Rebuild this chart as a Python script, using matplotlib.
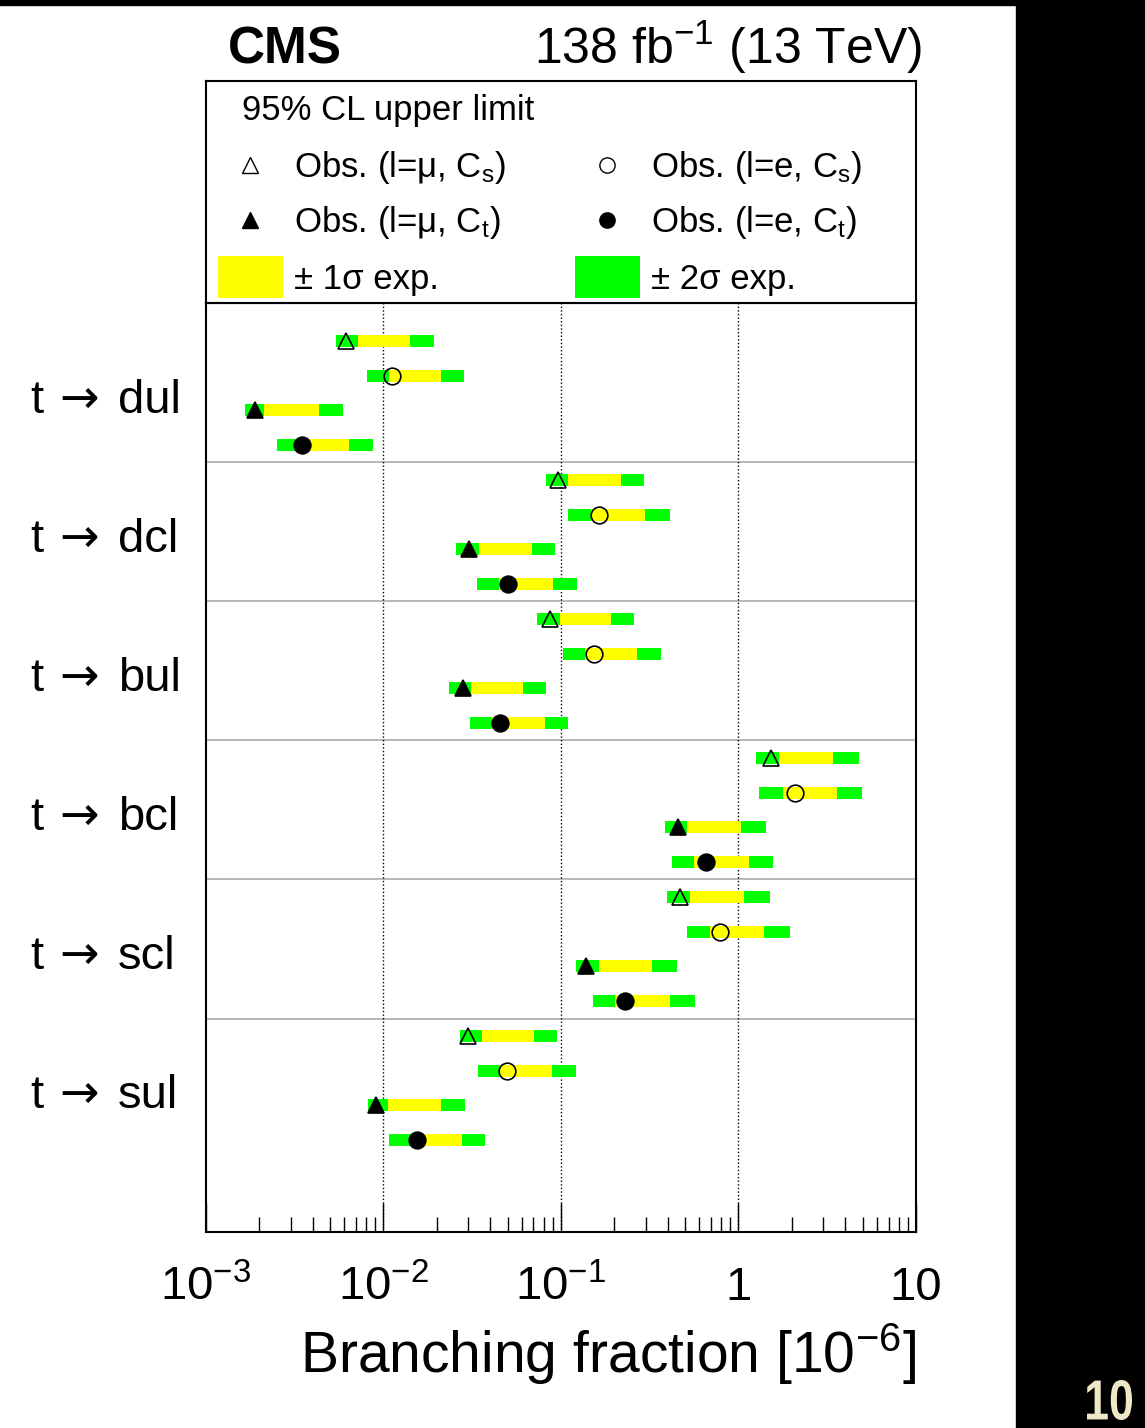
import numpy as np
import matplotlib
matplotlib.use('Agg')
import matplotlib.pyplot as plt
from matplotlib.patches import Rectangle, PathPatch
from matplotlib.textpath import TextPath
from matplotlib.font_manager import FontProperties
from matplotlib.transforms import Affine2D

plt.rcParams['font.family'] = ['Liberation Sans', 'DejaVu Sans']
plt.rcParams['mathtext.fontset'] = 'custom'
plt.rcParams['mathtext.rm'] = 'Liberation Sans'
plt.rcParams['mathtext.it'] = 'Liberation Sans:italic'
plt.rcParams['mathtext.bf'] = 'Liberation Sans:bold'

# Decay channels, top to bottom
channels = ['dul', 'dcl', 'bul', 'bcl', 'scl', 'sul']

# Observed 95% CL limits [1e-6], one value per channel
obs_mu_cs = [0.00615, 0.0958, 0.0870, 1.52, 0.468, 0.0300]
obs_e_cs = [0.0112, 0.164, 0.153, 2.09, 0.787, 0.0494]
obs_mu_ct = [0.00189, 0.0304, 0.0282, 0.456, 0.138, 0.0091]
obs_e_ct = [0.00349, 0.0501, 0.0455, 0.654, 0.229, 0.01544]

# Expected bands: (-2 sigma, -1 sigma, +1 sigma, +2 sigma)
band_mu_cs = [(0.00538, 0.00718, 0.01416, 0.0192), (0.0823, 0.110, 0.217, 0.294),
              (0.0732, 0.0988, 0.191, 0.259), (1.26, 1.70, 3.42, 4.76),
              (0.396, 0.533, 1.08, 1.51), (0.0269, 0.0359, 0.0705, 0.0950)]
band_e_cs = [(0.00807, 0.0108, 0.0211, 0.0283), (0.110, 0.148, 0.297, 0.410),
             (0.102, 0.1365, 0.269, 0.366), (1.31, 1.77, 3.59, 4.96),
             (0.511, 0.691, 1.40, 1.94), (0.0341, 0.0453, 0.0893, 0.121)]
band_mu_ct = [(0.001652, 0.00213, 0.00431, 0.00591), (0.0257, 0.0345, 0.0684, 0.0925),
              (0.0234, 0.0312, 0.0613, 0.0823), (0.386, 0.515, 1.03, 1.42),
              (0.1215, 0.163, 0.326, 0.450), (0.00821, 0.0106, 0.0211, 0.0287)]
band_e_ct = [(0.00252, 0.00336, 0.00637, 0.00869), (0.0336, 0.0449, 0.0898, 0.123),
             (0.0306, 0.0407, 0.0809, 0.109), (0.421, 0.564, 1.15, 1.57),
             (0.151, 0.2015, 0.410, 0.567), (0.0107, 0.01428, 0.0278, 0.0375)]

xticks = [1e-3, 1e-2, 1e-1, 1, 10]
xtick_labels = [r'$10^{-3}$', r'$10^{-2}$', r'$10^{-1}$', '1', '10']

GREEN = '#00ff00'
YELLOW = '#ffff00'

fig = plt.figure(figsize=(11.45, 14.28), dpi=100)
ax = fig.add_axes([0.1799, 0.1373, 0.6201, 0.6506])

series = [
    (obs_mu_cs, band_mu_cs, '^', 'none'),
    (obs_e_cs, band_e_cs, 'o', 'none'),
    (obs_mu_ct, band_mu_ct, '^', 'black'),
    (obs_e_ct, band_e_ct, 'o', 'black'),
]

bar_h = 0.345
for s, (obs, band, mk, fc) in enumerate(series):
    y = np.arange(len(channels)) * 4 + s
    band = np.array(band)
    ax.barh(y, band[:, 3] - band[:, 0], left=band[:, 0], height=bar_h,
            color=GREEN, linewidth=0, zorder=2)
    ax.barh(y, band[:, 2] - band[:, 1], left=band[:, 1], height=bar_h,
            color=YELLOW, linewidth=0, zorder=3)
    ax.plot(obs, y, linestyle='none', marker=mk, markersize=12,
            markerfacecolor=fc, markeredgecolor='black', markeredgewidth=1.2, zorder=5)

ax.set_xscale('log')
ax.set_xlim(1e-3, 10)
ax.set_ylim(25.64, -1.09)

# group separators and dotted decade lines
for g in range(1, len(channels)):
    ax.axhline(4 * g - 0.5, color='#ababab', lw=1.2, zorder=1)
for xv in [1e-2, 1e-1, 1]:
    ax.axvline(xv, color='black', lw=1.0, ls=(0, (1, 1.6)), zorder=1)

# channel labels: "t", long arrow, final state
ytr = ax.get_yaxis_transform()
for g, ch in enumerate(channels):
    yb = 4 * g + 2.08
    ax.text((30 - 206) / 710, yb, 't', transform=ytr, fontsize=34, ha='left', va='baseline')
    ax.text((59 - 206) / 710, yb, '\u2192', transform=ytr, fontsize=34, ha='left',
            va='baseline', family='DejaVu Sans')
    ax.text((118 - 206) / 710, yb, ch, transform=ytr, fontsize=34, ha='left', va='baseline')

ax.set_yticks([])
ax.set_xticks(xticks)
ax.set_xticklabels([])
ax.tick_params(axis='x', which='major', direction='in', length=21, width=1.0, top=False)
ax.tick_params(axis='x', which='minor', direction='in', length=11, width=1.0, top=False)
for sp in ax.spines.values():
    sp.set_linewidth(1.5)

for xv, lab in zip(xticks, xtick_labels):
    ax.text(xv, -0.0732, lab, transform=ax.get_xaxis_transform(),
            fontsize=34, ha='center', va='baseline')

# legend box
lax = fig.add_axes([0.1799, 0.7878, 0.6201, 0.1555])
lax.set_xlim(0, 1)
lax.set_ylim(0, 1)
lax.set_xticks([])
lax.set_yticks([])
for sp in lax.spines.values():
    sp.set_linewidth(1.5)

lax.text(0.0507, 0.822, '95% CL upper limit', fontsize=25, va='baseline')
lax.plot(0.062, 0.6216, '^', ms=12, mfc='none', mec='black', mew=1.0)
lax.plot(0.5648, 0.6216, 'o', ms=11, mfc='none', mec='black', mew=1.0)
lax.plot(0.062, 0.3739, '^', ms=11, mfc='black', mec='black')
lax.plot(0.5648, 0.3739, 'o', ms=11, mfc='black', mec='black')
lax.text(0.124, 0.5653, r'Obs. (l=μ, C$_{\mathregular{s}}$)', fontsize=25, va='baseline')
lax.text(0.627, 0.5653, r'Obs. (l=e, C$_{\mathregular{s}}$)', fontsize=25, va='baseline')
lax.text(0.124, 0.3176, r'Obs. (l=μ, C$_{\mathregular{t}}$)', fontsize=25, va='baseline')
lax.text(0.627, 0.3176, r'Obs. (l=e, C$_{\mathregular{t}}$)', fontsize=25, va='baseline')
lax.add_patch(Rectangle((0.0169, 0.0225), 0.0916, 0.1892, color=YELLOW, lw=0))
lax.add_patch(Rectangle((0.5197, 0.0225), 0.0916, 0.1892, color=GREEN, lw=0))
lax.text(0.124, 0.0631, '± 1σ exp.', fontsize=25, va='baseline')
lax.text(0.627, 0.0631, '± 2σ exp.', fontsize=25, va='baseline')

# header and axis title
fig.text(228 / 1145, 1 - 63 / 1428, 'CMS', fontsize=37, fontweight='bold', ha='left', va='baseline')
fig.text(922 / 1145, 1 - 64 / 1428, r'138 fb$^{-1}$ (13 TeV)', fontsize=36, ha='right', va='baseline')
fig.text(916 / 1145, 1 - 1373 / 1428, r'Branching fraction [10$^{-6}$]', fontsize=41,
         ha='right', va='baseline')

# slide border and condensed page number
fig.add_artist(Rectangle((1016 / 1145, 0), 1, 1, transform=fig.transFigure,
                         color='black', zorder=-5))
fig.add_artist(Rectangle((0, 1 - 5 / 1428), 1, 1, transform=fig.transFigure,
                         color='black', zorder=-5))
tp = TextPath((0, 0), '10', size=50, prop=FontProperties(family='Liberation Sans', weight='bold'))
bb = tp.get_extents()
tr = Affine2D().translate(-bb.x0, -bb.y0).scale(45 / bb.width, 40 / bb.height).translate(1087, 8)
fig.add_artist(PathPatch(tp, transform=tr, facecolor='#efe8c8', edgecolor='none'))

fig.savefig('out.png', dpi=100)
